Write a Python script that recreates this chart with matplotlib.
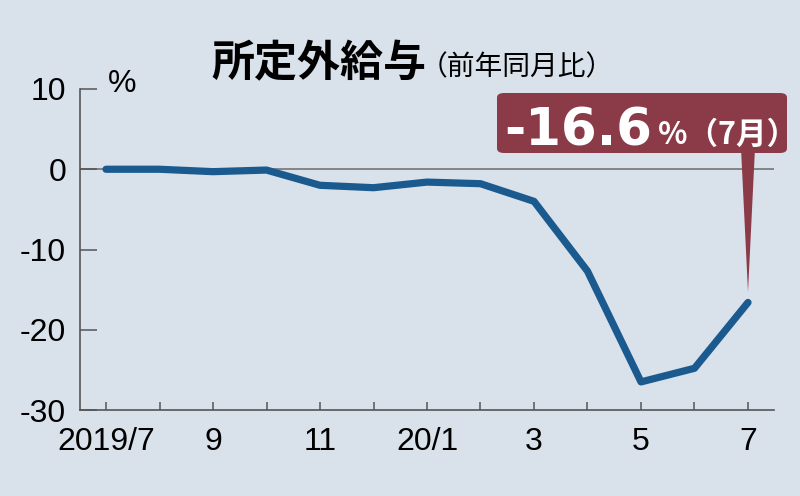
import matplotlib
matplotlib.use('Agg')
import matplotlib.pyplot as plt
from matplotlib import font_manager
from matplotlib.patches import FancyBboxPatch, Polygon

# ---------------------------------------------------------------------------
# Data
# ---------------------------------------------------------------------------
months = ['2019/7', '8', '9', '10', '11', '12', '20/1', '2', '3', '4', '5', '6', '7']
values = [0.0, 0.0, -0.3, -0.1, -2.0, -2.3, -1.6, -1.8, -4.0, -12.7, -26.5, -24.8, -16.6]
tick_labels = ['2019/7', '', '9', '', '11', '', '20/1', '', '3', '', '5', '', '7']
y_ticks = [10, 0, -10, -20, -30]

title = '所定外給与'
subtitle = '（前年同月比）'
callout_value = '-16.6'
callout_unit = '%（7月）'

BG = '#d9e1eb'
LINE = '#1b5a8e'
BOX = '#8b3a48'
AXIS = '#555555'

_names = {f.name for f in font_manager.fontManager.ttflist}
NUM_FONT = 'Liberation Sans Narrow' if 'Liberation Sans Narrow' in _names else 'Liberation Sans'
CJK = ['Noto Sans CJK JP', 'DejaVu Sans']

W, H = 800, 496


def px(x, y):
    """pixel position (from top-left) -> figure fraction"""
    return x / W, 1 - y / H


fig = plt.figure(figsize=(W / 100, H / 100), dpi=100, facecolor=BG)
ax = fig.add_axes([80 / W, 1 - 410 / H, 694 / W, 321 / H])
ax.set_facecolor(BG)

x = list(range(len(months)))
ax.axhline(0, color='#6b6b6b', lw=1.1, zorder=1)
ax.plot(x, values, color=LINE, lw=5.2, solid_capstyle='round',
        solid_joinstyle='round', zorder=3)

ax.set_xlim(-0.486, 12.486)
ax.set_ylim(-30, 10)

for s in ('top', 'right'):
    ax.spines[s].set_visible(False)
for s in ('left', 'bottom'):
    ax.spines[s].set_color(AXIS)
    ax.spines[s].set_linewidth(1.2)

ax.set_xticks(x)
ax.set_xticklabels(tick_labels, fontfamily=NUM_FONT, fontsize=23)
ax.set_yticks(y_ticks)
ax.set_yticklabels([str(v) for v in y_ticks], fontfamily=NUM_FONT, fontsize=23)
ax.tick_params(axis='x', direction='in', length=6, width=1.1, color=AXIS, pad=12)
ax.tick_params(axis='y', direction='in', length=12, width=1.1, color=AXIS, pad=10)

# unit label
fig.text(*px(108, 84), '%', fontfamily=NUM_FONT, fontsize=23, ha='left', va='center')

# title
fig.text(*px(211, 76), title, fontfamily=CJK, fontsize=31, fontweight='bold',
         ha='left', va='baseline')
fig.text(*px(420, 75), subtitle, fontfamily=CJK, fontsize=20,
         ha='left', va='baseline')

# callout box
bx0, by0, bx1, by1 = 497, 93, 787, 153
x0, y0 = px(bx0, by1)
x1, y1 = px(bx1, by0)
box = FancyBboxPatch((x0, y0), x1 - x0, y1 - y0,
                     boxstyle='round,pad=0,rounding_size=0.009',
                     transform=fig.transFigure, facecolor=BOX, edgecolor='none',
                     zorder=5)
fig.patches.append(box)

# pointer from box down to the last point
last_x, last_y = x[-1], values[-1]
box_bottom = ax.transData.inverted().transform((0, y0 * H))[1]
pointer = Polygon([(last_x - 0.13, box_bottom + 0.5), (last_x + 0.13, box_bottom + 0.5),
                   (last_x, last_y + 1.3)], closed=True, facecolor=BOX,
                  edgecolor='none', zorder=5, clip_on=False)
ax.add_patch(pointer)

fig.text(*px(504, 145), callout_value, fontfamily='DejaVu Sans', fontsize=37,
         fontweight='bold', color='white', ha='left', va='baseline', zorder=6)
fig.text(*px(658, 144), callout_unit, fontfamily=CJK, fontsize=22,
         fontweight='bold', color='white', ha='left', va='baseline', zorder=6)

fig.savefig('out.png', dpi=100, facecolor=BG)
